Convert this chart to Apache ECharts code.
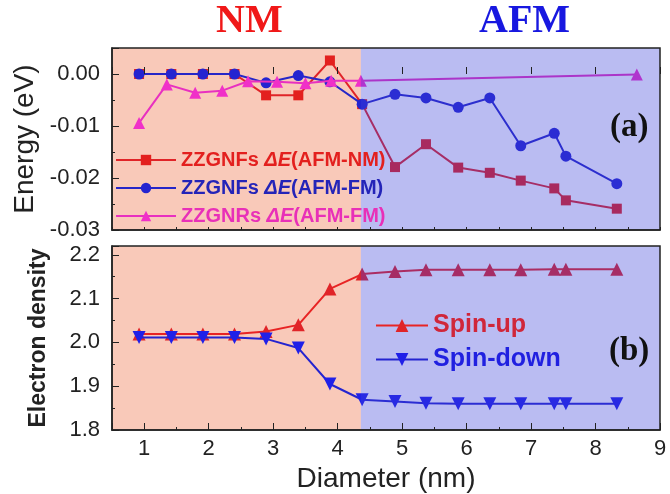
<!DOCTYPE html>
<html>
<head>
<meta charset="utf-8">
<script src="https://cdn.jsdelivr.net/npm/echarts@6/dist/echarts.min.js"></script>
<style>
  html, body { margin: 0; padding: 0; background: #fff; }
  #main { width: 670px; height: 494px; }
</style>
</head>
<body>
<div id="main"></div>
<script>
// diameters (nm)
var diamGNF = [0.92, 1.42, 1.91, 2.40, 2.89, 3.39, 3.88, 4.38, 4.89, 5.37, 5.87, 6.36, 6.84, 7.36, 7.54, 8.33];
var diamGNR = [0.92, 1.35, 1.79, 2.21, 2.61, 3.06, 3.50, 3.90, 4.36, 8.64];

// energy differences (eV)
var gnfAfmNm = [0, 0, 0, 0, -0.0041, -0.0041, 0.0026, -0.0058, -0.0179, -0.0135, -0.0180, -0.0190, -0.0205, -0.0220, -0.0243, -0.0259];
var gnfAfmFm = [0, 0, 0, 0, -0.0017, -0.0003, -0.0015, -0.0058, -0.0039, -0.0046, -0.0064, -0.0046, -0.0138, -0.0114, -0.0158, -0.0211];
var gnrAfmFm = [-0.0094, -0.0020, -0.0036, -0.0032, -0.0014, -0.0015, -0.0018, -0.0013, -0.0013, -0.0001];

// electron density
var spinUp = [2.019, 2.019, 2.019, 2.019, 2.025, 2.040, 2.122, 2.156, 2.162, 2.166, 2.166, 2.166, 2.166, 2.167, 2.167, 2.167];
var spinDown = [2.011, 2.011, 2.011, 2.011, 2.008, 1.987, 1.905, 1.869, 1.865, 1.861, 1.860, 1.860, 1.860, 1.860, 1.860, 1.860];

var boundary = 4.36;

function pairs(xs, ys) {
    return xs.map(function (x, i) { return [x, ys[i]]; });
}

var myChart = echarts.init(document.getElementById('main'));

var FONT = 'Arial, "Liberation Sans", sans-serif';
var SERIF = '"Liberation Serif", "DejaVu Serif", serif';
var ink = '#222';

var names = {
    nm: 'ZZGNFs ΔE(AFM-NM)',
    fm: 'ZZGNFs ΔE(AFM-FM)',
    nr: 'ZZGNRs ΔE(AFM-FM)'
};

function isMult(v, step) {
    var k = v / step;
    return Math.abs(k - Math.round(k)) < 1e-6;
}

// minor-tick axis (series are bound to it)
function xMinor(g) {
    return {
        type: 'value', gridIndex: g, min: 0.5, max: 9, interval: 0.5, position: 'bottom', z: 12,
        axisLine: { onZero: false, lineStyle: { color: ink, width: 1.5 } },
        axisTick: { inside: true, length: 3, lineStyle: { color: ink } },
        axisLabel: { show: false }, splitLine: { show: false }
    };
}
// major-tick axis: integer ticks and labels
function xMajor(g, labels) {
    return {
        type: 'value', gridIndex: g, min: 0.5, max: 9, minInterval: 1, maxInterval: 1, splitNumber: 8,
        position: 'bottom', z: 12,
        axisLine: { show: false },
        axisTick: { inside: true, length: 7, lineStyle: { color: ink } },
        splitLine: { show: false },
        axisLabel: {
            show: labels, fontFamily: FONT, fontSize: 22, color: ink, margin: 8,
            formatter: function (v) { return isMult(v, 1) ? String(Math.round(v)) : ''; }
        },
        name: labels ? 'Diameter (nm)' : '', nameLocation: 'middle', nameGap: 35,
        nameTextStyle: { fontFamily: FONT, fontSize: 28, color: ink }
    };
}
function yMinor(g, min, max, step) {
    return {
        type: 'value', gridIndex: g, min: min, max: max, interval: step, position: 'left', z: 12,
        axisLine: { show: true, lineStyle: { color: ink, width: 1.5 } },
        axisTick: { inside: true, length: 3, lineStyle: { color: ink } },
        axisLabel: { show: false }, splitLine: { show: false }
    };
}
function yMajor(g, min, max, step, digits, name, nameGap, nameStyle) {
    return {
        type: 'value', gridIndex: g, min: min, max: max, interval: step, position: 'left', z: 12,
        axisLine: { show: false },
        axisTick: { inside: true, length: 7, lineStyle: { color: ink } },
        splitLine: { show: false },
        axisLabel: {
            fontFamily: FONT, fontSize: 22, color: ink, margin: 12,
            formatter: function (v) {
                if (!isMult(v - min, step)) return '';
                var r = Math.round(v / step) * step;
                return Math.abs(r) < 1e-9 ? (0).toFixed(digits) : r.toFixed(digits);
            }
        },
        name: name, nameLocation: 'middle', nameGap: nameGap, nameTextStyle: nameStyle
    };
}

// NM region sits under the curves, AFM region is a tinted layer over them
var nmShade = {
    silent: true, z: 1,
    itemStyle: { color: '#F9C9B9' },
    data: [[{ xAxis: 0.5 }, { xAxis: boundary }]]
};
var afmShade = {
    silent: true, z: 9,
    itemStyle: { color: 'rgb(58,64,218)', opacity: 0.35 },
    data: [[{ xAxis: boundary }, { xAxis: 9 }]]
};

function legendRich(size) {
    var base = { fontWeight: 'bold', fontSize: size, fontFamily: FONT };
    function s(color, italic) {
        return Object.assign({}, base, { color: color }, italic ? { fontStyle: 'italic' } : {});
    }
    return {
        r: s('#E3201E'), ri: s('#E3201E', true),
        b: s('#2424B8'), bi: s('#2424B8', true),
        m: s('#E830B8'), mi: s('#E830B8', true)
    };
}

option = {
    backgroundColor: '#fff',
    animation: false,
    grid: [
        { left: 112, top: 48, width: 548, height: 182, show: true, borderColor: ink, borderWidth: 1.5, backgroundColor: 'transparent', z: 11 },
        { left: 112, top: 246, width: 548, height: 184, show: true, borderColor: ink, borderWidth: 1.5, backgroundColor: 'transparent', z: 11 }
    ],
    xAxis: [xMinor(0), xMajor(0, false), xMinor(1), xMajor(1, true)],
    yAxis: [
        yMinor(0, -0.03, 0.005, 0.005),
        yMajor(0, -0.03, 0.005, 0.01, 2, 'Energy (eV)', 66, { fontFamily: FONT, fontSize: 28, color: ink }),
        yMinor(1, 1.8, 2.22, 0.05),
        yMajor(1, 1.8, 2.22, 0.1, 1, 'Electron density', 62, { fontFamily: FONT, fontSize: 23, fontWeight: 'bold', color: ink })
    ],
    legend: [
        {
            data: [names.nm, names.fm, names.nr],
            orient: 'vertical', left: 110, top: 145, itemGap: 8, z: 20,
            itemWidth: 60, itemHeight: 13,
            formatter: function (name) {
                var key = name === names.nm ? 'r' : (name === names.fm ? 'b' : 'm');
                var parts = name.split('ΔE');
                return '{' + key + '|' + parts[0] + '}{' + key + 'i|ΔE}{' + key + '|' + parts[1] + '}';
            },
            textStyle: { rich: legendRich(20) }
        },
        {
            data: ['Spin-up', 'Spin-down'],
            orient: 'vertical', left: 370, top: 308, itemGap: 9, z: 20,
            itemWidth: 52, itemHeight: 16,
            formatter: function (name) { return name === 'Spin-up' ? '{r|' + name + '}' : '{b|' + name + '}'; },
            textStyle: {
                rich: {
                    r: { color: '#D0263A', fontWeight: 'bold', fontSize: 25, fontFamily: FONT },
                    b: { color: '#2020E0', fontWeight: 'bold', fontSize: 25, fontFamily: FONT }
                }
            }
        }
    ],
    graphic: [
        { type: 'text', left: 216, top: 2, z: 100, style: { text: 'NM', font: 'bold 40px ' + SERIF, fill: '#F01818' } },
        { type: 'text', left: 479, top: 2, z: 100, style: { text: 'AFM', font: 'bold 40px ' + SERIF, fill: '#1818E0' } },
        { type: 'text', left: 610, top: 111, z: 100, style: { text: '(a)', font: 'bold 33px ' + SERIF, fill: '#111' } },
        { type: 'text', left: 609, top: 335, z: 100, style: { text: '(b)', font: 'bold 33px ' + SERIF, fill: '#111' } }
    ],
    series: [
        {
            name: 'shade-a', type: 'line', xAxisIndex: 0, yAxisIndex: 0, data: [],
            markArea: nmShade, z: 1
        },
        {
            name: 'shade-a2', type: 'line', xAxisIndex: 0, yAxisIndex: 0, data: [],
            markArea: afmShade, z: 9
        },
        {
            name: names.nm, type: 'line', xAxisIndex: 0, yAxisIndex: 0,
            data: pairs(diamGNF, gnfAfmNm),
            symbol: 'rect', symbolSize: 10,
            lineStyle: { color: '#E02428', width: 2 },
            itemStyle: { color: '#E3201E' }, z: 3
        },
        {
            name: names.fm, type: 'line', xAxisIndex: 0, yAxisIndex: 0,
            data: pairs(diamGNF, gnfAfmFm),
            symbol: 'circle', symbolSize: 11,
            lineStyle: { color: '#2626C8', width: 2 },
            itemStyle: { color: '#2424D0' }, z: 4
        },
        {
            name: names.nr, type: 'line', xAxisIndex: 0, yAxisIndex: 0,
            data: pairs(diamGNR, gnrAfmFm),
            symbol: 'triangle', symbolSize: 12,
            lineStyle: { color: '#E830C0', width: 2 },
            itemStyle: { color: '#F030C8' }, z: 5
        },
        {
            name: 'shade-b', type: 'line', xAxisIndex: 2, yAxisIndex: 2, data: [],
            markArea: nmShade, z: 1
        },
        {
            name: 'shade-b2', type: 'line', xAxisIndex: 2, yAxisIndex: 2, data: [],
            markArea: afmShade, z: 9
        },
        {
            name: 'Spin-up', type: 'line', xAxisIndex: 2, yAxisIndex: 2,
            data: pairs(diamGNF, spinUp),
            symbol: 'triangle', symbolSize: 13,
            lineStyle: { color: '#E82424', width: 2 },
            itemStyle: { color: '#E02428' }, z: 3
        },
        {
            name: 'Spin-down', type: 'line', xAxisIndex: 2, yAxisIndex: 2,
            data: pairs(diamGNF, spinDown),
            symbol: 'triangle', symbolRotate: 180, symbolSize: 13,
            lineStyle: { color: '#2424D0', width: 2 },
            itemStyle: { color: '#2020E8' }, z: 4
        }
    ]
};
myChart.setOption(option);
</script>
</body>
</html>
